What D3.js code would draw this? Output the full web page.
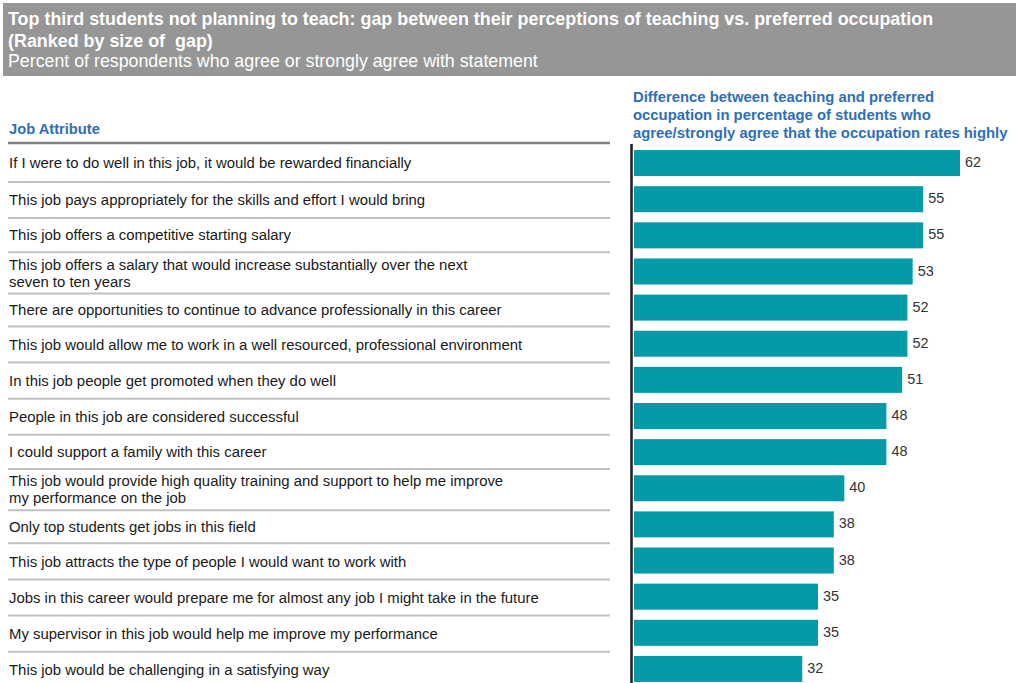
<!DOCTYPE html>
<html>
<head>
<meta charset="utf-8">
<script src="https://cdn.jsdelivr.net/npm/d3@7"></script>
<style>
  html, body { margin: 0; padding: 0; background: #fff; }
  svg { display: block; font-family: "Liberation Sans", Arial, sans-serif; }
  .pre { white-space: pre; }
</style>
</head>
<body>
<svg id="chart" width="1016" height="683"></svg>
<script>
// Job attributes, ranked by the size of the gap (line breaks as printed)
const attributes = [
  "If I were to do well in this job, it would be rewarded financially",
  "This job pays appropriately for the skills and effort I would bring",
  "This job offers a competitive starting salary",
  "This job offers a salary that would increase substantially over the next\nseven to ten years",
  "There are opportunities to continue to advance professionally in this career",
  "This job would allow me to work in a well resourced, professional environment",
  "In this job people get promoted when they do well",
  "People in this job are considered successful",
  "I could support a family with this career",
  "This job would provide high quality training and support to help me improve\nmy performance on the job",
  "Only top students get jobs in this field",
  "This job attracts the type of people I would want to work with",
  "Jobs in this career would prepare me for almost any job I might take in the future",
  "My supervisor in this job would help me improve my performance",
  "This job would be challenging in a satisfying way"
];

// Gap (percentage points) between teaching and preferred occupation
const gapValues = [62, 55, 55, 53, 52, 52, 51, 48, 48, 40, 38, 38, 35, 35, 32];

const titleLines = [
  "Top third students not planning to teach: gap between their perceptions of teaching vs. preferred occupation",
  "(Ranked by size of  gap)"
];
const subtitle = "Percent of respondents who agree or strongly agree with statement";
const leftHeader = "Job Attribute";
const rightHeaderLines = [
  "Difference between teaching and preferred",
  "occupation in percentage of students who",
  "agree/strongly agree that the occupation rates highly"
];

const rows = attributes.map((a, i) => ({ label: a.split("\n"), value: gapValues[i] }));

const svg = d3.select("#chart");
const W = 1016, H = 683;

// ---- Header band ----
svg.append("rect").attr("x", 3).attr("y", 3).attr("width", W - 3).attr("height", 73).attr("fill", "#969696");
svg.selectAll("text.title").data(titleLines).join("text")
  .attr("class", "title pre")
  .attr("x", 8).attr("y", (d, i) => 25 + i * 21.5)
  .attr("fill", "#fff").attr("font-weight", "bold").attr("font-size", 17.9)
  .text(d => d);
svg.append("text").attr("x", 8).attr("y", 67)
  .attr("fill", "#fff").attr("font-size", 17.8).text(subtitle);

// ---- Column headers ----
const blue = "#2e6fb7";
svg.append("text").attr("x", 9).attr("y", 134)
  .attr("fill", blue).attr("font-weight", "bold").attr("font-size", 14.7).text(leftHeader);
svg.selectAll("text.rh").data(rightHeaderLines).join("text")
  .attr("class", "rh")
  .attr("x", 633).attr("y", (d, i) => 101.5 + i * 18)
  .attr("fill", blue).attr("font-weight", "bold").attr("font-size", 14.85)
  .text(d => d);

// ---- Scales ----
const y = d3.scaleBand().domain(d3.range(rows.length)).range([145, 687]).paddingInner(0.28).paddingOuter(0.14);
const x = d3.scaleLinear().domain([0, 62]).range([634, 960]);

// ---- Left table: row boundaries follow the bar bands, taller for two-line rows ----
const mid = i => y(i) + y.bandwidth() / 2;
const bounds = [143];
for (let i = 0; i < rows.length - 1; i++) {
  let b = (mid(i) + mid(i + 1)) / 2 + 0.8;
  if (rows[i].label.length > 1) b += 3.2;
  if (rows[i + 1].label.length > 1) b -= 2;
  bounds.push(b);
}
bounds.push(H + 6);

svg.selectAll("line.sep").data(bounds.slice(1, -1)).join("line")
  .attr("class", "sep")
  .attr("x1", 8).attr("x2", 610).attr("y1", d => d).attr("y2", d => d)
  .attr("stroke", "#c0c0c0").attr("stroke-width", 2);
svg.append("line").attr("x1", 8).attr("x2", 610).attr("y1", 143).attr("y2", 143)
  .attr("stroke", "#808080").attr("stroke-width", 2.5);

const labelG = svg.selectAll("g.lab").data(rows).join("g").attr("class", "lab");
labelG.each(function (d, i) {
  const cy = i === rows.length - 1 ? mid(i) + 0.5 : (bounds[i] + bounds[i + 1]) / 2;
  const n = d.label.length;
  d3.select(this).selectAll("text").data(d.label).join("text")
    .attr("x", 9)
    .attr("y", (t, k) => cy + (k - (n - 1) / 2) * 17)
    .attr("dy", "0.35em")
    .attr("fill", "#1a1a1a").attr("font-size", 14.9)
    .text(t => t);
});

// ---- Bars ----
svg.selectAll("rect.bar").data(rows).join("rect")
  .attr("class", "bar")
  .attr("x", x(0)).attr("y", (d, i) => y(i))
  .attr("width", d => x(d.value) - x(0)).attr("height", y.bandwidth())
  .attr("fill", "#049aa7");

svg.selectAll("text.val").data(rows).join("text")
  .attr("class", "val")
  .attr("x", d => x(d.value) + 5).attr("y", (d, i) => mid(i) - 1)
  .attr("dy", "0.35em")
  .attr("fill", "#333").attr("font-size", 14.4)
  .text(d => d.value);

// ---- Vertical baseline ----
svg.append("line").attr("x1", 631.5).attr("x2", 631.5).attr("y1", 144).attr("y2", H)
  .attr("stroke", "#222").attr("stroke-width", 2.6);
</script>
</body>
</html>
